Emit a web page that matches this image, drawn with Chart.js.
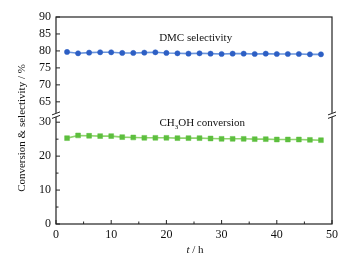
<!DOCTYPE html>
<html><head><meta charset="utf-8">
<script src="https://cdn.jsdelivr.net/npm/chart.js@4/dist/chart.umd.min.js"></script>
<style>html,body{margin:0;padding:0;background:#fff}#c{display:block}</style>
</head><body>
<canvas id="c" width="349" height="261"></canvas>
<script>
const hours = [2,4,6,8,10,12,14,16,18,20,22,24,26,28,30,32,34,36,38,40,42,44,46,48];
const dmcSelectivity = [79.7,79.3,79.5,79.6,79.6,79.4,79.4,79.5,79.6,79.4,79.3,79.2,79.3,79.2,79.1,79.2,79.2,79.1,79.2,79.1,79.1,79.1,79.0,79.0];
const ch3ohConversion = [25.3,26.1,26.0,25.9,25.9,25.6,25.5,25.4,25.4,25.4,25.3,25.3,25.3,25.2,25.1,25.1,25.1,25.0,25.0,24.9,24.9,24.9,24.8,24.7];
const xTicks = [0,10,20,30,40,50];
const xMinorTicks = [5,15,25,35,45];
const yTopTicks = [65,70,75,80,85,90];
const yBottomTicks = [0,10,20,30];
const yBottomMinorTicks = [5,15,25];

const FONT = "'Liberation Serif','DejaVu Serif',serif";

const decor = {
  id:'decor',
  afterDraw(chart){
    const ctx = chart.ctx, a = chart.chartArea;
    const xs = chart.scales.x, yt = chart.scales.yTop, yb = chart.scales.yBot;
    ctx.save();
    ctx.strokeStyle = '#222'; ctx.lineWidth = 1.2;
    ctx.strokeRect(a.left, a.top, a.right-a.left, a.bottom-a.top);
    ctx.lineWidth = 1;
    const tick = (x1,y1,x2,y2)=>{ctx.beginPath();ctx.moveTo(x1,y1);ctx.lineTo(x2,y2);ctx.stroke();};
    xTicks.forEach(v=>{const x=xs.getPixelForValue(v); tick(x,a.bottom,x,a.bottom-4);});
    xMinorTicks.forEach(v=>{const x=xs.getPixelForValue(v); tick(x,a.bottom,x,a.bottom-2.5);});
    yTopTicks.forEach(v=>{const y=yt.getPixelForValue(v); tick(a.left,y,a.left+4,y);});
    yBottomTicks.forEach(v=>{const y=yb.getPixelForValue(v); tick(a.left,y,a.left+4,y);});
    yBottomMinorTicks.forEach(v=>{const y=yb.getPixelForValue(v); tick(a.left,y,a.left+2.5,y);});
    // axis breaks
    const by = yt.bottom;
    [a.left, a.right].forEach(x=>{
      ctx.fillStyle='#fff'; ctx.fillRect(x-2, by-2.5, 4, 4);
      ctx.strokeStyle='#222'; ctx.lineWidth=1;
      tick(x-4, by-0.5, x+4, by-3.5);
      tick(x-4, by+3, x+4, by);
    });
    // texts
    ctx.fillStyle='#111';
    ctx.font = "11px "+FONT; ctx.textBaseline='middle'; ctx.textAlign='center';
    ctx.fillText('DMC selectivity', xs.getPixelForValue(25.3), yt.getPixelForValue(83.9));
    // CH3OH conversion
    const cy = yb.getPixelForValue(29.7);
    const p1='CH', p2='3', p3='OH conversion';
    ctx.font = "11px "+FONT; const w1=ctx.measureText(p1).width, w3=ctx.measureText(p3).width;
    ctx.font = "7px "+FONT; const w2=ctx.measureText(p2).width;
    let cx = xs.getPixelForValue(26.5) - (w1+w2+w3)/2;
    ctx.textAlign='left';
    ctx.font = "11px "+FONT; ctx.fillText(p1,cx,cy); cx+=w1;
    ctx.font = "7px "+FONT; ctx.fillText(p2,cx,cy+4); cx+=w2;
    ctx.font = "11px "+FONT; ctx.fillText(p3,cx,cy);
    // x title
    ctx.font = "italic 11px "+FONT; const wt=ctx.measureText('t').width;
    ctx.font = "11px "+FONT; const wr=ctx.measureText(' / h').width;
    let tx = (a.left+a.right)/2 - (wt+wr)/2 + 1;
    ctx.font = "italic 11px "+FONT; ctx.fillText('t',tx,250);
    ctx.font = "11px "+FONT; ctx.fillText(' / h',tx+wt,250);
    // y title
    ctx.translate(22, 128); ctx.rotate(-Math.PI/2);
    ctx.textAlign='center'; ctx.font = "11px "+FONT;
    ctx.fillText('Conversion & selectivity / %',0,0);
    ctx.restore();
  }
};

const tickFont = {family: FONT, size: 12};
new Chart(document.getElementById('c'), {
  type:'line',
  data:{
    datasets:[
      {label:'DMC selectivity', data: hours.map((h,i)=>({x:h,y:dmcSelectivity[i]})), yAxisID:'yTop',
       borderColor:'#6a95dc', borderWidth:1.6, pointBackgroundColor:'#2d5fc4', pointBorderColor:'#2d5fc4',
       pointRadius:2.6, pointBorderWidth:0.5, pointStyle:'circle', tension:0},
      {label:'CH3OH conversion', data: hours.map((h,i)=>({x:h,y:ch3ohConversion[i]})), yAxisID:'yBot',
       borderColor:'#8fd46e', borderWidth:1.6, pointBackgroundColor:'#5dbf3e', pointBorderColor:'#5dbf3e',
       pointRadius:3.4, pointBorderWidth:0.5, pointStyle:'rect', tension:0}
    ]
  },
  options:{
    responsive:false, animation:false, devicePixelRatio:1,
    layout:{padding:{top:17,right:17,left:0,bottom:0}},
    plugins:{legend:{display:false}, tooltip:{enabled:false}},
    scales:{
      x:{type:'linear', min:0, max:50, position:'bottom',
         afterBuildTicks:s=>{s.ticks = xTicks.map(v=>({value:v}));},
         afterFit:s=>{s.height=37;},
         grid:{display:false, drawTicks:false}, border:{display:false},
         ticks:{font:tickFont, color:'#111', padding:4, maxRotation:0, autoSkip:false}},
      yBot:{type:'linear', min:0, max:32, position:'left', stack:'y', stackWeight:32,
         afterBuildTicks:s=>{s.ticks = yBottomTicks.map(v=>({value:v}));},
         afterFit:s=>{s.width=56;},
         grid:{display:false, drawTicks:false}, border:{display:false},
         ticks:{font:tickFont, color:'#111', padding:5, autoSkip:false}},
      yTop:{type:'linear', min:61, max:90, position:'left', stack:'y', stackWeight:29,
         afterBuildTicks:s=>{s.ticks = yTopTicks.map(v=>({value:v}));},
         afterFit:s=>{s.width=56;},
         grid:{display:false, drawTicks:false}, border:{display:false},
         ticks:{font:tickFont, color:'#111', padding:5, autoSkip:false}}
    }
  },
  plugins:[decor]
});
</script>
</body></html>
